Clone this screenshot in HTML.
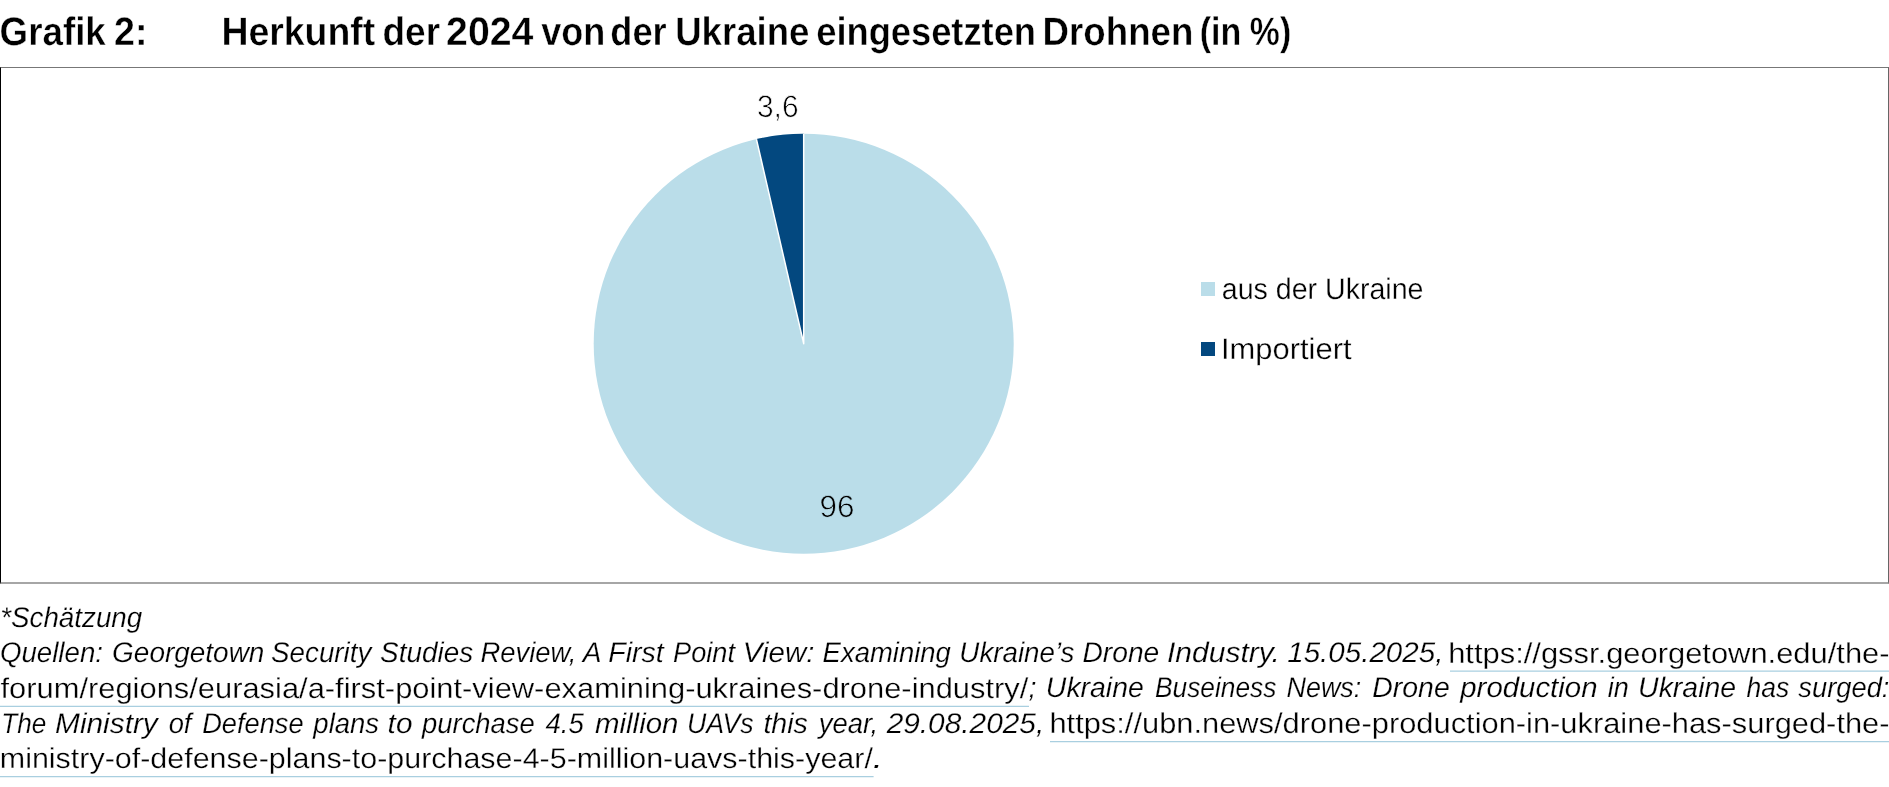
<!DOCTYPE html>
<html lang="de">
<head>
<meta charset="utf-8">
<title>Grafik 2</title>
<style>
  html, body { margin: 0; padding: 0; background: #ffffff; }
  body { width: 1889px; height: 787px; position: relative; overflow: hidden;
         font-family: "Liberation Sans", sans-serif; color: #000; }
  .w { position: absolute; left: 0; top: 0; white-space: nowrap; line-height: 1; transform-origin: 0 0; display: block; text-rendering: geometricPrecision; }
  #txt { position:absolute; left:0; top:0; width:1889px; height:787px; will-change: transform; }
  .b { font-weight: bold; }
  .i { font-style: italic; }
  #box { position: absolute; left: 0; top: 67px; width: 1887px; height: 514px;
         border-left: 1px solid #000; border-top: 1px solid #777;
         border-right: 1px solid #666; border-bottom: 2px solid #a6a6a6; }
  #gfx { position: absolute; left: 0; top: 0; }
  .sw { position: absolute; width: 14px; height: 14px; left: 1201px; }
</style>
</head>
<body>
  <div id="box"></div>
  <svg id="gfx" width="1889" height="787" viewBox="0 0 1889 787">
    <circle cx="803.7" cy="343.7" r="210" fill="#badde9"/>
    <path d="M803.7 343.7 L756.42 139.09 A210 210 0 0 1 803.7 133.7 Z" fill="#03487f"/>
    <path d="M756.42 139.09 L803.7 343.7 L803.7 133.7" fill="none" stroke="#ffffff" stroke-width="1.5" stroke-linejoin="round"/>
    <g stroke="#a9cfe0" stroke-width="1.2"><line x1="1450" y1="671.2" x2="1889" y2="671.2"/><line x1="0" y1="706.4" x2="1029" y2="706.4"/><line x1="1050" y1="741.7" x2="1889" y2="741.7"/><line x1="0" y1="776.6" x2="873.6" y2="776.6"/></g>
  </svg>
  <div class="sw" style="top:282px; background:#badde9;"></div>
  <div class="sw" style="top:342px; background:#03487f;"></div>
<div id="txt">
<span class="w b" style="font-size:39.6px;transform:translate(-0.39px,13px) scaleX(0.9283);-webkit-text-stroke:0.4px #ffffff;">Grafik</span>
<span class="w b" style="font-size:39.6px;transform:translate(114.11px,13px) scaleX(0.9511);-webkit-text-stroke:0.4px #ffffff;">2:</span>
<span class="w b" style="font-size:39.6px;transform:translate(221.40px,13px) scaleX(0.9452);-webkit-text-stroke:0.4px #ffffff;">Herkunft</span>
<span class="w b" style="font-size:39.6px;transform:translate(382.54px,13px) scaleX(0.9330);-webkit-text-stroke:0.4px #ffffff;">der</span>
<span class="w b" style="font-size:39.6px;transform:translate(446.03px,13px) scaleX(0.9932);-webkit-text-stroke:0.4px #ffffff;">2024</span>
<span class="w b" style="font-size:39.6px;transform:translate(541.17px,13px) scaleX(0.9111);-webkit-text-stroke:0.4px #ffffff;">von</span>
<span class="w b" style="font-size:39.6px;transform:translate(610.37px,13px) scaleX(0.9140);-webkit-text-stroke:0.4px #ffffff;">der</span>
<span class="w b" style="font-size:39.6px;transform:translate(675.15px,13px) scaleX(0.9242);-webkit-text-stroke:0.4px #ffffff;">Ukraine</span>
<span class="w b" style="font-size:39.6px;transform:translate(816.21px,13px) scaleX(0.9167);-webkit-text-stroke:0.4px #ffffff;">eingesetzten</span>
<span class="w b" style="font-size:39.6px;transform:translate(1042.58px,13px) scaleX(0.9267);-webkit-text-stroke:0.4px #ffffff;">Drohnen</span>
<span class="w b" style="font-size:39.6px;transform:translate(1199.75px,13px) scaleX(0.8608);-webkit-text-stroke:0.4px #ffffff;">(in</span>
<span class="w b" style="font-size:39.6px;transform:translate(1249.83px,13px) scaleX(0.8538);-webkit-text-stroke:0.4px #ffffff;">%)</span>
<span class="w r" style="font-size:31.0px;transform:translate(756.97px,91px) scaleX(0.9647);-webkit-text-stroke:0.7px #ffffff;">3,6</span>
<span class="w r" style="font-size:31.0px;transform:translate(819.38px,491px) scaleX(1.0149);-webkit-text-stroke:0.7px #badde9;">96</span>
<span class="w r" style="font-size:29.8px;transform:translate(1221.78px,275px) scaleX(0.9588);-webkit-text-stroke:0.3px #ffffff;">aus der Ukraine</span>
<span class="w r" style="font-size:29.8px;transform:translate(1221.01px,335px) scaleX(1.0371);-webkit-text-stroke:0.3px #ffffff;">Importiert</span>
<span class="w i" style="font-size:28.4px;transform:translate(0.15px,604px) scaleX(0.9788);-webkit-text-stroke:0.22px #ffffff;">*Schätzung</span>
<span class="w i" style="font-size:28.4px;transform:translate(-0.10px,639px) scaleX(0.9748);-webkit-text-stroke:0.22px #ffffff;">Quellen:</span>
<span class="w i" style="font-size:28.4px;transform:translate(112.11px,639px) scaleX(0.9844);-webkit-text-stroke:0.22px #ffffff;">Georgetown</span>
<span class="w i" style="font-size:28.4px;transform:translate(271.06px,639px) scaleX(0.9780);-webkit-text-stroke:0.22px #ffffff;">Security</span>
<span class="w i" style="font-size:28.4px;transform:translate(380.11px,639px) scaleX(0.9822);-webkit-text-stroke:0.22px #ffffff;">Studies</span>
<span class="w i" style="font-size:28.4px;transform:translate(480.42px,639px) scaleX(0.9661);-webkit-text-stroke:0.22px #ffffff;">Review,</span>
<span class="w i" style="font-size:28.4px;transform:translate(582.84px,639px) scaleX(0.9892);-webkit-text-stroke:0.22px #ffffff;">A</span>
<span class="w i" style="font-size:28.4px;transform:translate(608.29px,639px) scaleX(1.0048);-webkit-text-stroke:0.22px #ffffff;">First</span>
<span class="w i" style="font-size:28.4px;transform:translate(673.05px,639px) scaleX(0.9575);-webkit-text-stroke:0.22px #ffffff;">Point</span>
<span class="w i" style="font-size:28.4px;transform:translate(742.86px,639px) scaleX(1.0384);-webkit-text-stroke:0.22px #ffffff;">View:</span>
<span class="w i" style="font-size:28.4px;transform:translate(822.59px,639px) scaleX(0.9674);-webkit-text-stroke:0.22px #ffffff;">Examining</span>
<span class="w i" style="font-size:28.4px;transform:translate(959.36px,639px) scaleX(0.9767);-webkit-text-stroke:0.22px #ffffff;">Ukraine’s</span>
<span class="w i" style="font-size:28.4px;transform:translate(1082.48px,639px) scaleX(0.9932);-webkit-text-stroke:0.22px #ffffff;">Drone</span>
<span class="w i" style="font-size:28.4px;transform:translate(1166.94px,639px) scaleX(1.0583);-webkit-text-stroke:0.22px #ffffff;">Industry.</span>
<span class="w i" style="font-size:28.4px;transform:translate(1287.23px,639px) scaleX(1.0409);-webkit-text-stroke:0.22px #ffffff;">15.05.2025,</span>
<span class="w r" style="font-size:28.5px;transform:translate(1448.15px,640px) scaleX(1.0841);-webkit-text-stroke:0.3px #ffffff;">https://gssr.georgetown.edu/the-</span>
<span class="w r" style="font-size:28.5px;transform:translate(0.49px,675px) scaleX(1.0833);-webkit-text-stroke:0.3px #ffffff;">forum/regions/eurasia/a-first-point-view-examining-ukraines-drone-industry/</span>
<span class="w i" style="font-size:28.4px;transform:translate(1028.55px,674px) scaleX(1.0014);-webkit-text-stroke:0.22px #ffffff;">;</span>
<span class="w i" style="font-size:28.4px;transform:translate(1045.86px,674px) scaleX(1.0010);-webkit-text-stroke:0.22px #ffffff;">Ukraine</span>
<span class="w i" style="font-size:28.4px;transform:translate(1154.90px,674px) scaleX(0.9280);-webkit-text-stroke:0.22px #ffffff;">Buseiness</span>
<span class="w i" style="font-size:28.4px;transform:translate(1286.46px,674px) scaleX(0.9486);-webkit-text-stroke:0.22px #ffffff;">News:</span>
<span class="w i" style="font-size:28.4px;transform:translate(1372.31px,674px) scaleX(1.0005);-webkit-text-stroke:0.22px #ffffff;">Drone</span>
<span class="w i" style="font-size:28.4px;transform:translate(1460.26px,674px) scaleX(1.0351);-webkit-text-stroke:0.22px #ffffff;">production</span>
<span class="w i" style="font-size:28.4px;transform:translate(1607.86px,674px) scaleX(0.9535);-webkit-text-stroke:0.22px #ffffff;">in</span>
<span class="w i" style="font-size:28.4px;transform:translate(1638.11px,674px) scaleX(1.0014);-webkit-text-stroke:0.22px #ffffff;">Ukraine</span>
<span class="w i" style="font-size:28.4px;transform:translate(1746.46px,674px) scaleX(0.9330);-webkit-text-stroke:0.22px #ffffff;">has</span>
<span class="w i" style="font-size:28.4px;transform:translate(1798.32px,674px) scaleX(0.9620);-webkit-text-stroke:0.22px #ffffff;">surged:</span>
<span class="w i" style="font-size:28.4px;transform:translate(1.20px,710px) scaleX(0.9207);-webkit-text-stroke:0.22px #ffffff;">The</span>
<span class="w i" style="font-size:28.4px;transform:translate(55.05px,710px) scaleX(1.0504);-webkit-text-stroke:0.22px #ffffff;">Ministry</span>
<span class="w i" style="font-size:28.4px;transform:translate(168.64px,710px) scaleX(0.9623);-webkit-text-stroke:0.22px #ffffff;">of</span>
<span class="w i" style="font-size:28.4px;transform:translate(202.16px,710px) scaleX(0.9588);-webkit-text-stroke:0.22px #ffffff;">Defense</span>
<span class="w i" style="font-size:28.4px;transform:translate(313.37px,710px) scaleX(0.9681);-webkit-text-stroke:0.22px #ffffff;">plans</span>
<span class="w i" style="font-size:28.4px;transform:translate(387.61px,710px) scaleX(1.0480);-webkit-text-stroke:0.22px #ffffff;">to</span>
<span class="w i" style="font-size:28.4px;transform:translate(422.05px,710px) scaleX(0.9650);-webkit-text-stroke:0.22px #ffffff;">purchase</span>
<span class="w i" style="font-size:28.4px;transform:translate(545.46px,710px) scaleX(0.9727);-webkit-text-stroke:0.22px #ffffff;">4.5</span>
<span class="w i" style="font-size:28.4px;transform:translate(594.99px,710px) scaleX(1.0375);-webkit-text-stroke:0.22px #ffffff;">million</span>
<span class="w i" style="font-size:28.4px;transform:translate(686.93px,710px) scaleX(0.9396);-webkit-text-stroke:0.22px #ffffff;">UAVs</span>
<span class="w i" style="font-size:28.4px;transform:translate(763.39px,710px) scaleX(1.0080);-webkit-text-stroke:0.22px #ffffff;">this</span>
<span class="w i" style="font-size:28.4px;transform:translate(818.83px,710px) scaleX(0.9634);-webkit-text-stroke:0.22px #ffffff;">year,</span>
<span class="w i" style="font-size:28.4px;transform:translate(886.65px,710px) scaleX(1.0505);-webkit-text-stroke:0.22px #ffffff;">29.08.2025,</span>
<span class="w r" style="font-size:28.5px;transform:translate(1049.41px,710px) scaleX(1.0823);-webkit-text-stroke:0.3px #ffffff;">https://ubn.news/drone-production-in-ukraine-has-surged-the-</span>
<span class="w r" style="font-size:28.5px;transform:translate(-0.21px,745px) scaleX(1.0683);-webkit-text-stroke:0.3px #ffffff;">ministry-of-defense-plans-to-purchase-4-5-million-uavs-this-year/</span>
<span class="w i" style="font-size:28.4px;transform:translate(872.42px,745px) scaleX(1.3759);-webkit-text-stroke:0.22px #ffffff;">.</span>
</div>
</body>
</html>
